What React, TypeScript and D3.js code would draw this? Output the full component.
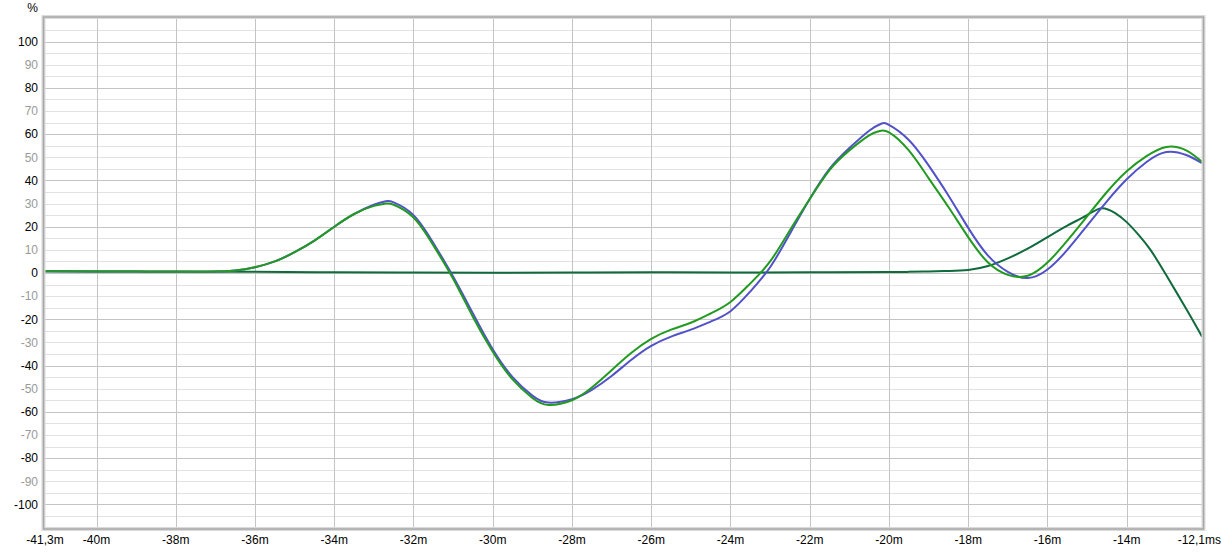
import React from "react";
import * as d3 from "d3";

const blueTimes = [-41.3, -40, -39, -38, -37.5, -37, -36.5, -36, -35.5, -35, -34.5, -34, -33.5, -33, -32.7, -32.5, -32, -31.5, -31, -30.5, -30, -29.5, -29, -28.6, -28, -27.5, -27, -26.5, -26, -25.5, -25, -24.5, -24, -23.5, -23, -22.5, -22, -21.5, -21, -20.5, -20.2, -20, -19.5, -19, -18.5, -18, -17.5, -17, -16.5, -16, -15.5, -15, -14.5, -14, -13.5, -13, -12.5, -12.1];
const blueValues = [0.8, 0.7, 0.6, 0.5, 0.5, 0.6, 1.1, 2.5, 5, 9, 14, 20, 25.5, 29.5, 31, 30.5, 25, 13, -1.5, -17.5, -33, -45, -53, -56, -54.5, -50.5, -44.5, -37.5, -31.5, -27.5, -24.5, -21, -16.5, -8, 2.5, 17, 32, 45, 54, 61.5, 64.5, 64, 57.5, 46.5, 33.5, 19.5, 7.5, 0.5, -2.2, 1.5, 10, 20.5, 31, 40.5, 48, 52.3, 51, 47.5];

const greenTimes = [-41.3, -40, -39, -38, -37.5, -37, -36.5, -36, -35.5, -35, -34.5, -34, -33.5, -33, -32.7, -32.5, -32, -31.5, -31, -30.5, -30, -29.5, -29, -28.6, -28, -27.5, -27, -26.5, -26, -25.5, -25, -24.5, -24, -23.5, -23, -22.5, -22, -21.5, -21, -20.5, -20.25, -20, -19.5, -19, -18.5, -18, -17.5, -17, -16.5, -16, -15.5, -15, -14.5, -14, -13.5, -13, -12.5, -12.1];
const greenValues = [0.8, 0.7, 0.6, 0.5, 0.5, 0.6, 1.1, 2.5, 5, 9, 14, 20, 25.5, 29, 30, 29.5, 24, 12, -2.5, -19, -34, -46, -54, -57, -55, -49.5, -42, -34.5, -28.5, -24.5, -21.5, -17.5, -12.5, -4.5, 5, 18.5, 32, 44.5, 53, 59.5, 61.3, 60.8, 53, 41, 28.5, 15.5, 4.5, -0.8, -1.2, 4.5, 14, 24.5, 35, 44, 50.5, 54.5, 53, 48];

const darkTimes = [-41.3, -40, -38, -36, -34, -32, -30, -28, -26, -24, -22, -20, -19.5, -19, -18.5, -18, -17.5, -17, -16.5, -16, -15.5, -15, -14.64, -14.3, -14, -13.7, -13.4, -13, -12.5, -12.1];
const darkValues = [0.8, 0.7, 0.6, 0.5, 0.3, 0.2, 0.1, 0.2, 0.3, 0.2, 0.3, 0.4, 0.5, 0.7, 0.9, 1.3, 3, 6.3, 10.5, 15.5, 20.5, 25, 28, 26, 22, 16.5, 10, -1, -15.5, -27.5];

const xTickValues = [-40, -38, -36, -34, -32, -30, -28, -26, -24, -22, -20, -18, -16, -14];
const xEdgeLabels = ["-41,3m", "-12,1ms"];
const yTickValues = [100, 90, 80, 70, 60, 50, 40, 30, 20, 10, 0, -10, -20, -30, -40, -50, -60, -70, -80, -90, -100];

export default function App() {
  const W = 1222, H = 552;
  const x = d3.scaleLinear().domain([-41.3, -12.1]).range([45, 1202]);
  const y = d3.scaleLinear().domain([-110, 110]).range([527.5, 18.5]);
  const minorY = d3.range(-105, 110, 5);
  const font = "'Liberation Sans', Arial, sans-serif";

  const line = d3
    .line<[number, number]>()
    .x((d) => x(d[0]))
    .y((d) => y(d[1]))
    .curve(d3.curveNatural);

  const zip = (ts: number[], vs: number[]) => ts.map((t, i) => [t, vs[i]] as [number, number]);
  const blueData = zip(blueTimes, blueValues);
  const greenData = zip(greenTimes, greenValues);
  const darkData = zip(darkTimes, darkValues);

  const [x0, x1] = x.range();
  const [yb, yt] = y.range();

  return (
    <svg width={W} height={H} style={{ display: "block", position: "absolute", left: 0, top: 0, background: "#fff" }}>
      <defs>
        <clipPath id="plot">
          <rect x={x0} y={yt} width={x1 - x0} height={yb - yt} />
        </clipPath>
      </defs>
      <rect x={0} y={0} width={W} height={H} fill="#fff" />
      {minorY.map((v) => (
        <line key={"m" + v} x1={x0} x2={x1} y1={Math.round(y(v)) + 0.5} y2={Math.round(y(v)) + 0.5}
          stroke={v % 20 === 0 ? "#c4c4c4" : "#e2e2e2"} strokeWidth={1} />
      ))}
      {xTickValues.map((t) => (
        <line key={"v" + t} x1={Math.round(x(t)) + 0.5} x2={Math.round(x(t)) + 0.5} y1={yt} y2={yb}
          stroke="#c4c4c4" strokeWidth={1} />
      ))}
      <g clipPath="url(#plot)" fill="none" strokeWidth={2} strokeLinejoin="round">
        <path d={line(darkData) || ""} stroke="#0f6a3c" />
        <path d={line(blueData) || ""} stroke="#5252c8" />
        <path d={line(greenData) || ""} stroke="#229a22" />
      </g>
      <rect x={x0 - 1.5} y={yt - 1.5} width={x1 - x0 + 3} height={yb - yt + 3} fill="none" stroke="#dadada" strokeWidth={4} />
      <rect x={x0 - 1.5} y={yt - 1.5} width={x1 - x0 + 3} height={yb - yt + 3} fill="none" stroke="#a8a8a8" strokeWidth={1.5} />
      <text x={38} y={12} textAnchor="end" fontFamily={font} fontSize={12} fill="#000">%</text>
      {yTickValues.map((v) => (
        <text key={"y" + v} x={38} y={y(v) + 4.3} textAnchor="end" fontFamily={font} fontSize={12}
          fill={v % 20 === 0 ? "#000" : "#999"}>{v}</text>
      ))}
      <text x={x(-41.3)} y={544} textAnchor="middle" fontFamily={font} fontSize={12} fill="#000">{xEdgeLabels[0]}</text>
      {xTickValues.map((t) => (
        <text key={"x" + t} x={x(t)} y={544} textAnchor="middle" fontFamily={font} fontSize={12} fill="#000">{t + "m"}</text>
      ))}
      <text x={1221} y={544} textAnchor="end" fontFamily={font} fontSize={12} fill="#000">{xEdgeLabels[1]}</text>
    </svg>
  );
}
